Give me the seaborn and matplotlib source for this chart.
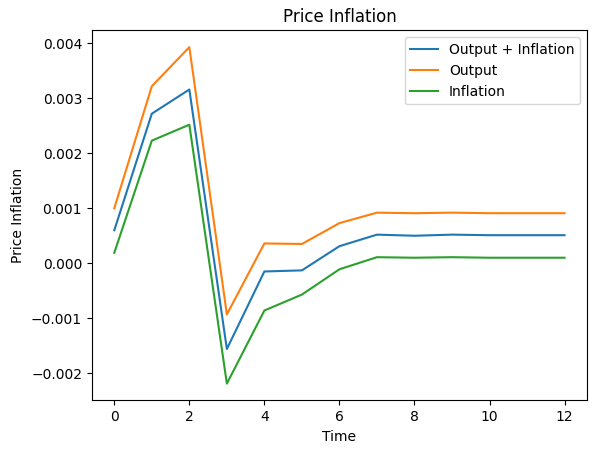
import matplotlib
matplotlib.use("Agg")
import matplotlib.pyplot as plt
import seaborn as sns
import pandas as pd

# Data
time = list(range(13))
output_inflation = [0.00060, 0.00272, 0.00316, -0.00156, -0.00015, -0.00013, 0.00031,
                    0.00052, 0.00050, 0.00052, 0.00051, 0.00051, 0.00051]
output = [0.00100, 0.00322, 0.00393, -0.00093, 0.00036, 0.00035, 0.00073,
          0.00092, 0.00091, 0.00092, 0.00091, 0.00091, 0.00091]
inflation = [0.00019, 0.00223, 0.00252, -0.00219, -0.00086, -0.00057, -0.00011,
             0.00011, 0.00010, 0.00011, 0.00010, 0.00010, 0.00010]

df = pd.DataFrame({
    "Time": time * 3,
    "Price Inflation": output_inflation + output + inflation,
    "Scenario": ["Output + Inflation"] * 13 + ["Output"] * 13 + ["Inflation"] * 13,
})

fig, ax = plt.subplots(figsize=(5.96, 4.53), dpi=100)

sns.lineplot(data=df, x="Time", y="Price Inflation", hue="Scenario",
             palette=["#1f77b4", "#ff7f0e", "#2ca02c"], ax=ax)

ax.set_title("Price Inflation")
ax.set_xlabel("Time")
ax.set_ylabel("Price Inflation")
ax.legend(title=None, loc="upper right")

fig.subplots_adjust(left=0.154, right=0.985, top=0.933, bottom=0.116)
fig.savefig("out.png", dpi=100)
